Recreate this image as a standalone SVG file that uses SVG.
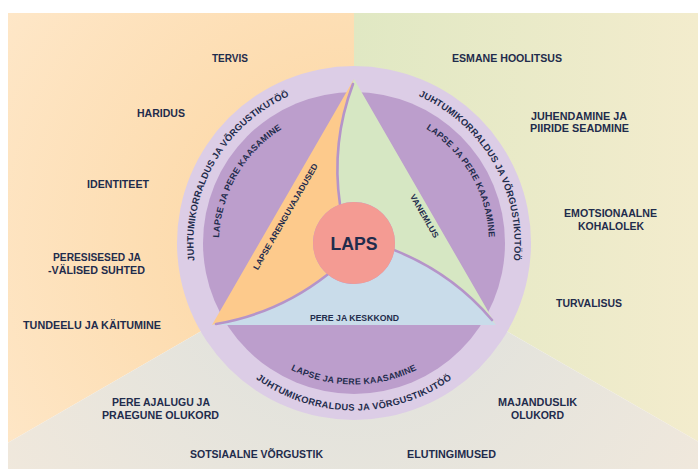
<svg xmlns="http://www.w3.org/2000/svg" width="698" height="469" viewBox="0 0 698 469">
<style>
.t{font-family:"Liberation Sans",Arial,sans-serif;font-weight:700;fill:#1f2c4c;text-anchor:middle}
.lbl{font-size:11px}
.ro{font-size:9.3px;letter-spacing:0.1px}
.rb{font-size:9.3px;letter-spacing:0.3px}
.ri{font-size:8.8px;letter-spacing:0.25px}
.sec{font-size:8.3px}
.cv{fill:none;stroke:#b594c9;stroke-width:2.6;stroke-linecap:round}
</style>
<defs>
<radialGradient id="gO" cx="354" cy="243" r="420" gradientUnits="userSpaceOnUse">
<stop offset="0" stop-color="#fcd49d"/><stop offset="1" stop-color="#fee7c8"/>
</radialGradient>
<linearGradient id="gG" x1="354" y1="0" x2="698" y2="0" gradientUnits="userSpaceOnUse">
<stop offset="0" stop-color="#e0e8c3"/><stop offset="1" stop-color="#f3eccd"/>
</linearGradient>
<radialGradient id="gB" cx="354" cy="243" r="420" gradientUnits="userSpaceOnUse">
<stop offset="0" stop-color="#dbe0dd"/><stop offset="1" stop-color="#f0e8dc"/>
</radialGradient>
<path id="pOL" d="M203.18,297.89 A160.5,160.5 0 0 1 326.13,84.94"/>
<path id="pOR" d="M381.87,84.94 A160.5,160.5 0 0 1 504.82,297.89"/>
<path id="pOB" d="M225.69,350.67 A167.5,167.5 0 0 0 482.31,350.67"/>
<path id="pIL" d="M227.14,289.17 A135,135 0 0 1 330.56,110.05"/>
<path id="pIR" d="M377.44,110.05 A135,135 0 0 1 480.86,289.17"/>
<path id="pIB" d="M245.61,333.96 A141.5,141.5 0 0 0 462.39,333.96"/>
</defs>

<g id="background">
<polygon points="8,13 354,13 354,243 8,442.8" fill="url(#gO)"/>
<polygon points="354,13 698,13 698,441.6 354,243" fill="url(#gG)"/>
<polygon points="8,442.8 354,243 698,441.6 698,469 8,469" fill="url(#gB)"/>
</g>

<g id="rings">
<circle cx="354" cy="243" r="177" fill="#dccde6"/>
<circle cx="354" cy="243" r="151" fill="#bc9ecc"/>
</g>

<g id="sector-arengu">
<path d="M354,79 L212,325 Q278.25,313.29 327.64,274.41 A41,41 0 0 1 339.98,204.47 Q331,142.25 354,79 Z" fill="#fdca8c"/>
</g>
<g id="sector-vanemlus">
<path d="M354,79 L496,325 Q452.75,273.46 394.38,250.12 A41,41 0 0 0 339.98,204.47 Q331,142.25 354,79 Z" fill="#d6e7c3"/>
</g>
<g id="sector-keskkond">
<path d="M212,325 L496,325 Q452.75,273.46 394.38,250.12 A41,41 0 0 1 327.64,274.41 Q278.25,313.29 212,325 Z" fill="#c9dcea"/>
</g>
<g id="dividers">
<path class="cv" d="M353,84 Q331,142.25 339.98,204.47"/>
<path class="cv" d="M492,320 Q452.75,273.46 394.38,250.12"/>
<path class="cv" d="M216,324 Q278.25,313.29 327.64,274.41"/>
</g>

<g id="laps">
<circle cx="354" cy="243" r="41" fill="#f49b93"/>
<text class="t" x="354" y="250" font-size="18.5" textLength="47" lengthAdjust="spacingAndGlyphs">LAPS</text>
</g>

<g id="sector-labels">
<text class="t sec" transform="translate(288,218) rotate(-60)" textLength="121" lengthAdjust="spacingAndGlyphs">LAPSE ARENGUVAJADUSED</text>
<text class="t sec" transform="translate(422,217.5) rotate(60)" textLength="49" lengthAdjust="spacingAndGlyphs">VANEMLUS</text>
<text class="t" x="354.5" y="321" font-size="8.5" textLength="89" lengthAdjust="spacingAndGlyphs">PERE JA KESKKOND</text>
</g>

<g id="ring-labels">
<text class="t ro"><textPath href="#pOL" startOffset="50%">JUHTUMIKORRALDUS JA VÕRGUSTIKUTÖÖ</textPath></text>
<text class="t ro"><textPath href="#pOR" startOffset="50%">JUHTUMIKORRALDUS JA VÕRGUSTIKUTÖÖ</textPath></text>
<text class="t rb"><textPath href="#pOB" startOffset="50%">JUHTUMIKORRALDUS JA VÕRGUSTIKUTÖÖ</textPath></text>
<text class="t ri"><textPath href="#pIL" startOffset="50%">LAPSE JA PERE KAASAMINE</textPath></text>
<text class="t ri"><textPath href="#pIR" startOffset="50%">LAPSE JA PERE KAASAMINE</textPath></text>
<text class="t ri"><textPath href="#pIB" startOffset="50%">LAPSE JA PERE KAASAMINE</textPath></text>
</g>

<g id="factor-labels">
<g id="n-tervis"><text class="t lbl" x="230" y="62" textLength="36" lengthAdjust="spacingAndGlyphs">TERVIS</text></g>
<g id="n-haridus"><text class="t lbl" x="161" y="117" textLength="48" lengthAdjust="spacingAndGlyphs">HARIDUS</text></g>
<g id="n-identiteet"><text class="t lbl" x="118" y="188" textLength="62" lengthAdjust="spacingAndGlyphs">IDENTITEET</text></g>
<g id="n-suhted">
<text class="t lbl" x="97" y="261" textLength="88" lengthAdjust="spacingAndGlyphs">PERESISESED JA</text>
<text class="t lbl" x="96.5" y="274" textLength="97" lengthAdjust="spacingAndGlyphs">-VÄLISED SUHTED</text>
</g>
<g id="n-tundeelu"><text class="t lbl" x="92" y="329" textLength="138" lengthAdjust="spacingAndGlyphs">TUNDEELU JA KÄITUMINE</text></g>
<g id="n-ajalugu">
<text class="t lbl" x="161" y="406" textLength="98" lengthAdjust="spacingAndGlyphs">PERE AJALUGU JA</text>
<text class="t lbl" x="160.5" y="419" textLength="117" lengthAdjust="spacingAndGlyphs">PRAEGUNE OLUKORD</text>
</g>
<g id="n-sotsiaalne"><text class="t lbl" x="256.5" y="458" textLength="133" lengthAdjust="spacingAndGlyphs">SOTSIAALNE VÕRGUSTIK</text></g>
<g id="n-elutingimused"><text class="t lbl" x="451.5" y="458" textLength="89" lengthAdjust="spacingAndGlyphs">ELUTINGIMUSED</text></g>
<g id="n-majanduslik">
<text class="t lbl" x="537.5" y="406" textLength="79" lengthAdjust="spacingAndGlyphs">MAJANDUSLIK</text>
<text class="t lbl" x="537.5" y="419" textLength="53" lengthAdjust="spacingAndGlyphs">OLUKORD</text>
</g>
<g id="n-turvalisus"><text class="t lbl" x="589" y="307" textLength="66" lengthAdjust="spacingAndGlyphs">TURVALISUS</text></g>
<g id="n-esmane"><text class="t lbl" x="507" y="62" textLength="110" lengthAdjust="spacingAndGlyphs">ESMANE HOOLITSUS</text></g>
<g id="n-juhendamine">
<text class="t lbl" x="579" y="120" textLength="96" lengthAdjust="spacingAndGlyphs">JUHENDAMINE JA</text>
<text class="t lbl" x="579.5" y="132" textLength="99" lengthAdjust="spacingAndGlyphs">PIIRIDE SEADMINE</text>
</g>
<g id="n-emotsionaalne">
<text class="t lbl" x="610.5" y="217" textLength="93" lengthAdjust="spacingAndGlyphs">EMOTSIONAALNE</text>
<text class="t lbl" x="611" y="230" textLength="66" lengthAdjust="spacingAndGlyphs">KOHALOLEK</text>
</g>
</g>
</svg>
